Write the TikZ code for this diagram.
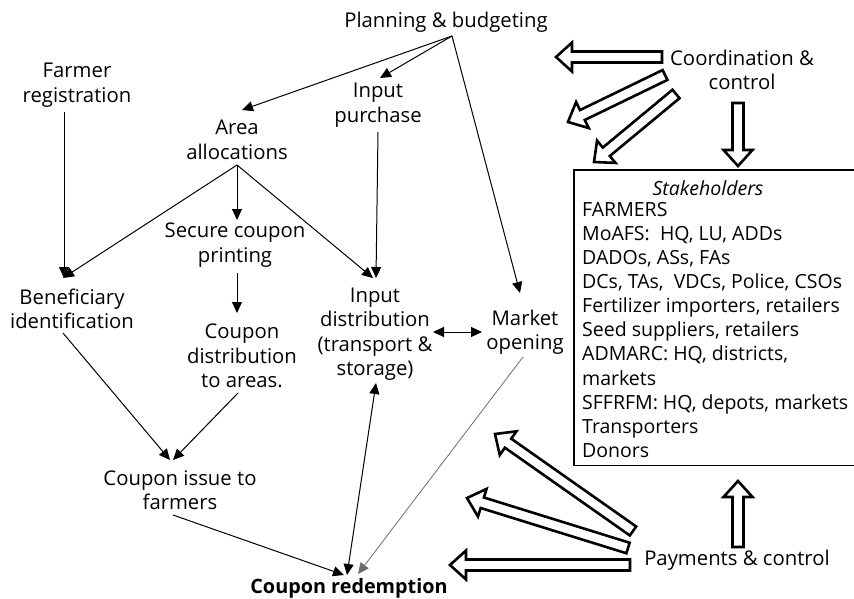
\documentclass[tikz,border=0pt]{standalone}
\usepackage{fontspec}
\setmainfont{Open Sans}
\usetikzlibrary{arrows.meta,calc}
\tikzset{
  lbl/.style={align=center, inner sep=1pt, font=\fontsize{20.3}{24.5}\selectfont},
  conn/.style={line width=1pt, -{Triangle[length=11pt,width=10pt]}},
  dconn/.style={line width=1pt, {Triangle[length=11pt,width=10pt]}-{Triangle[length=11pt,width=10pt]}},
  grayconn/.style={line width=0.8pt, draw=gray!85!black, -{Triangle[length=11pt,width=10pt]}},
  hollow/.style={line width=2.6pt, draw=black, fill=white, line join=miter, miter limit=10},
  boxline/.style={line width=1.8pt, line join=miter},
}
\newcommand\hollowarrow[2]{%
  \coordinate (hb) at ($(#2)!16pt!(#1)$);
  \draw[hollow] ($(#1)!5.5pt!90:(#2)$) -- ($(hb)!5.5pt!90:(#2)$) -- ($(hb)!14.5pt!90:(#2)$) -- (#2)
     -- ($(hb)!14.5pt!-90:(#2)$) -- ($(hb)!5.5pt!-90:(#2)$) -- ($(#1)!5.5pt!-90:(#2)$) -- cycle;
}
\begin{document}
\begin{tikzpicture}[x=1pt,y=-1pt]
\useasboundingbox (0,0) rectangle (854,599);

% text nodes
\node[lbl] (plan) at (446,22) {Planning \& budgeting};
\node[lbl] (farmer) at (77,85) {Farmer\\registration};
\node[lbl] (inpur) at (378,105) {Input\\purchase};
\node[lbl] (area) at (237,140) {Area\\allocations};
\node[lbl] (secure) at (235,245) {Secure coupon\\printing};
\node[lbl] (benef) at (72,309) {Beneficiary\\identification};
\node[lbl] (coupdist) at (242,356) {Coupon\\distribution\\to areas.};
\node[lbl] (inpdist) at (375,334) {Input\\distribution\\(transport \&\\storage)};
\node[lbl] (market) at (525,332) {Market\\opening};
\node[lbl] (issue) at (180,490) {Coupon issue to\\farmers};
\node[lbl, font=\fontsize{19.8}{24.5}\selectfont\bfseries] (redeem) at (349,588) {Coupon redemption};
\node[lbl] (coord) at (742,70) {Coordination \&\\control};
\node[lbl] (pay) at (737,560) {Payments \& control};

% stakeholders box (its right side runs past the picture's edge)
\node[minimum width=300pt, minimum height=295pt, anchor=north west, inner sep=0pt] (stake) at (574,170) {};
\draw[boxline] (stake.north east) -- (stake.north west) -- (stake.south west) -- (stake.south east);
\node[lbl, font=\fontsize{19.5}{24.5}\selectfont\itshape] (sth) at (708,188) {Stakeholders};
\node[lbl, align=left, anchor=north west, inner sep=0pt, font=\fontsize{19.5}{24.1}\selectfont] (slist) at (582,202)
 {FARMERS\\MoAFS:\ \ HQ, LU, ADDs\\DADOs, ASs, FAs\\DCs, TAs,\ \ VDCs, Police, CSOs\\Fertilizer importers, retailers\\Seed suppliers, retailers\\ADMARC: HQ, districts,\\markets\\SFFRFM: HQ, depots, markets\\Transporters\\Donors};

% connectors
\draw[conn] ($(plan)+(6,14)$) -- ($(area)+(5,-30)$);
\draw[conn] ($(plan)+(6,14)$) -- ($(inpur)+(2,-27)$);
\draw[conn] ($(plan)+(6,14)$) -- ($(market)+(-5,-39)$);
\draw[conn] ($(area)+(0,25)$) -- ($(secure)+(2,-25)$);
\draw[conn] ($(area)+(0,25)$) -- ($(benef)+(-9,-31)$);
\draw[conn] ($(area)+(0,25)$) -- ($(inpdist)+(-2,-56)$);
\draw[conn] ($(farmer)+(-13,27)$) -- ($(benef)+(-8,-31)$);
\draw[conn] ($(inpur)+(0,27)$) -- ($(inpdist)+(1,-56)$);
\draw[conn] ($(secure)+(2,28)$) -- ($(coupdist)+(-5,-43)$);
\draw[conn] ($(benef)+(-9,24)$) -- ($(issue)+(-10,-30)$);
\draw[conn] ($(coupdist)+(-4,37)$) -- ($(issue)+(-7,-30)$);
\draw[conn] ($(issue)+(-7,25)$) -- ($(redeem)+(-5,-13)$);
\draw[dconn] ($(redeem)+(-2,-13)$) -- ($(inpdist)+(1,49)$);
\draw[dconn] ($(inpdist)+(58,-2)$) -- ($(market)+(-43,0)$);
\draw[grayconn] ($(market)+(-2,25)$) -- ($(redeem)+(9,-14)$);

% hollow arrows from Coordination & control
\coordinate (c1a) at ($(coord)+(-80,-13)$); \coordinate (c1b) at ($(coord)+(-186,-13)$);
\coordinate (c2a) at ($(coord)+(-77,5)$);   \coordinate (c2b) at ($(coord)+(-174,52)$);
\coordinate (c3a) at ($(coord)+(-66,24)$);  \coordinate (c3b) at ($(coord)+(-148,92)$);
\coordinate (c4a) at ($(coord)+(-4,33)$);   \coordinate (c4b) at ($(coord)+(-4,96)$);
\hollowarrow{c1a}{c1b}
\hollowarrow{c2a}{c2b}
\hollowarrow{c3a}{c3b}
\hollowarrow{c4a}{c4b}

% hollow arrows from Payments & control
\coordinate (p1a) at ($(pay)+(-107,5)$);  \coordinate (p1b) at ($(pay)+(-287,5)$);
\coordinate (p2a) at ($(pay)+(-109,-12)$); \coordinate (p2b) at ($(pay)+(-270,-62)$);
\coordinate (p3a) at ($(pay)+(-104,-29)$); \coordinate (p3b) at ($(pay)+(-242,-126)$);
\coordinate (p4a) at ($(pay)+(1,-13)$);   \coordinate (p4b) at ($(pay)+(1,-79)$);
\hollowarrow{p1a}{p1b}
\hollowarrow{p2a}{p2b}
\hollowarrow{p3a}{p3b}
\hollowarrow{p4a}{p4b}
\end{tikzpicture}
\end{document}
